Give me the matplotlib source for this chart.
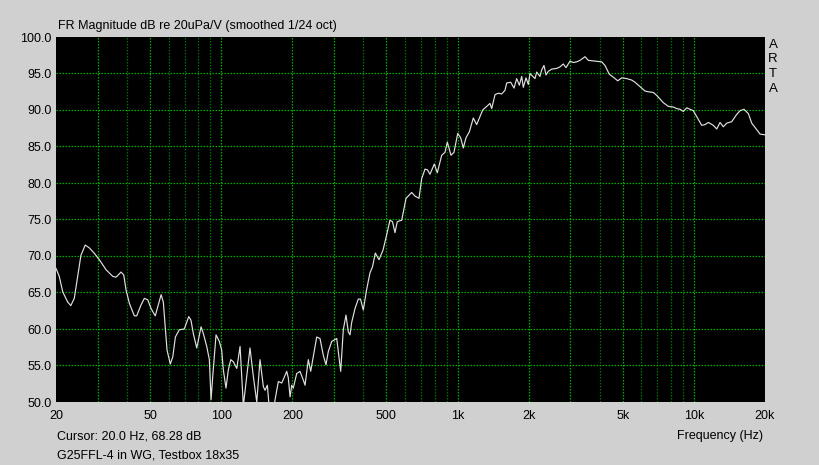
import matplotlib
matplotlib.use("Agg")
import matplotlib.pyplot as plt
import numpy as np

# ---- data (Hz, dB) ----
freq_hz = [
    20.0, 20.65, 21.35, 22.4, 23.1, 23.9, 24.7, 25.5, 26.6, 27.7, 29.0, 30.5, 32.6, 34.8, 35.9,
    37.7, 38.7, 39.6, 40.9, 42.9, 43.9, 45.8, 47.3, 48.9, 50.5, 52.6, 54.4, 55.7, 56.9, 58.0,
    59.0, 60.9, 62.4, 64.0, 66.5, 69.8, 72.9, 74.5, 76.2, 78.8, 82.2, 84.0, 86.9, 89.1, 90.6,
    92.1, 95.1, 98.2, 100.5, 102.1, 104.8, 107.2, 109.8, 112.6, 116.4, 120.2, 124.1, 132.4,
    136.8, 141.4, 146.0, 150.8, 153.3, 156.8, 159.4, 164.1, 169.0, 174.5, 180.4, 189.4, 192.3,
    195.6, 198.8, 201.9, 208.7, 215.5, 222.6, 226.3, 233.7, 239.2, 253.6, 261.9, 270.4, 277.6,
    283.9, 293.5, 308.2, 313.0, 320.4, 328.6, 337.4, 345.0, 350.8, 356.6, 368.3, 380.3, 388.6,
    399.3, 411.9, 426.2, 436.7, 448.8, 465.3, 483.8, 501.5, 517.8, 530.6, 543.7, 556.0, 580.5,
    605.5, 639.9, 660.8, 687.1, 705.3, 728.4, 746.3, 764.7, 797.5, 821.1, 857.1, 885.1, 905.2,
    938.4, 966.2, 1002, 1031, 1058, 1086, 1122, 1166, 1205, 1278, 1329, 1372, 1395, 1441, 1488,
    1538, 1588, 1615, 1679, 1734, 1780, 1826, 1869, 1898, 1949, 1993, 2026, 2127, 2163, 2233,
    2271, 2322, 2368, 2422, 2503, 2628, 2714, 2803, 2878, 2992, 3090, 3194, 3298, 3463, 3576,
    3817, 4075, 4208, 4388, 4563, 4763, 4952, 5200, 5459, 5637, 5822, 6018, 6214, 6418, 6738,
    6965, 7193, 7428, 7799, 8185, 8461, 8738, 9024, 9328, 9633, 9947, 10283, 10796, 11149,
    11514, 12089, 12496, 12905, 13327, 13776, 14463, 15185, 15682, 16305, 17003, 17575, 18453,
    19056, 20000,
]
level_db = [
    68.3, 67.2, 65.1, 63.7, 63.2, 64.2, 67.2, 70.1, 71.5, 71.1, 70.4, 69.5, 68.1, 67.2, 67.1,
    67.8, 67.4, 65.3, 63.5, 61.8, 61.8, 63.3, 64.2, 64.0, 62.8, 61.8, 63.5, 64.7, 63.7, 60.3,
    57.1, 55.2, 56.2, 58.9, 59.9, 60.0, 61.7, 61.2, 59.4, 57.4, 60.3, 59.4, 57.6, 55.8, 50.3,
    53.5, 59.2, 58.3, 57.1, 54.4, 51.9, 54.4, 55.8, 55.5, 54.6, 57.6, 49.5, 57.4,
    53.5, 50.0, 55.8, 52.1, 51.6, 52.3, 49.5, 47.5, 50.3, 52.8, 52.6, 54.2, 53.3,
    50.7, 52.3, 51.9, 53.9, 54.2, 53.0, 52.3, 55.8, 54.2, 58.9, 58.7, 56.4, 55.1,
    56.9, 58.3, 58.7, 56.9, 54.2, 59.9, 61.9, 59.6, 59.2, 60.9, 62.8, 64.1, 64.1,
    62.6, 65.3, 67.7, 68.5, 70.4, 69.5, 70.8, 72.9, 74.9, 74.7, 73.2, 74.7, 74.9,
    77.9, 78.7, 78.2, 77.9, 80.6, 81.9, 81.8, 81.2, 82.6, 81.4, 83.8, 84.2, 85.6,
    83.8, 84.2, 86.8, 86.2, 84.8, 86.2, 87.0, 88.9, 88.0, 90.0, 90.5, 90.9, 90.2, 92.1, 92.3,
    92.2, 92.7, 93.7, 93.8, 93.0, 94.3, 93.4, 94.6, 93.1, 94.4, 93.5, 95.0, 94.3, 95.2, 94.6,
    95.5, 96.1, 94.8, 95.3, 95.6, 95.7, 95.9, 96.3, 95.8, 96.7, 96.5, 96.6, 96.8, 97.3, 96.8,
    96.7, 96.6, 96.1, 94.9, 94.5, 94.0, 94.4, 94.3, 94.1, 93.8, 93.4, 93.0, 92.6, 92.5, 92.4,
    92.0, 91.5, 91.0, 90.5, 90.4, 90.2, 90.1, 89.8, 90.3, 90.1, 89.9, 89.1, 87.9, 88.0,
    88.3, 87.9, 87.4, 88.3, 87.7, 88.2, 88.4, 89.4, 89.9, 90.1, 89.5, 88.2, 87.3,
    86.7, 86.6,
]

x_ticks = [20, 50, 100, 200, 500, 1000, 2000, 5000, 10000, 20000]
x_tick_labels = ["20", "50", "100", "200", "500", "1k", "2k", "5k", "10k", "20k"]
y_ticks = [50, 55, 60, 65, 70, 75, 80, 85, 90, 95, 100]
bright_vlines = [30, 50, 100, 200, 300, 500, 1000, 2000, 3000, 5000, 10000]
dim_vlines = [40, 60, 70, 80, 90, 400, 600, 700, 800, 900, 4000, 6000, 7000, 8000, 9000]

title_text = "FR Magnitude dB re 20uPa/V (smoothed 1/24 oct)"
cursor_text = "Cursor: 20.0 Hz, 68.28 dB"
note_text = "G25FFL-4 in WG, Testbox 18x35"
xlabel_text = "Frequency (Hz)"

# ---- figure ----
plt.rcParams['font.family'] = ['Liberation Sans', 'DejaVu Sans']
W, H = 820, 465
fig = plt.figure(figsize=(W / 100, H / 100), dpi=100)
fig.patch.set_facecolor("#d0d0d0")

ax = fig.add_axes([56 / W, (H - 402) / H, 709 / W, 365 / H])
ax.set_facecolor("black")
ax.set_xscale("log")
ax.set_xlim(20, 20000)
ax.set_ylim(50, 100)

gl = 0.9
dots = (0, (1.2, 1.2))
for v in dim_vlines:
    ax.axvline(v, color="#007000", lw=gl, ls=dots, zorder=1)
for v in bright_vlines:
    ax.axvline(v, color="#00b000", lw=gl, ls=dots, zorder=1)
for yv in y_ticks[1:-1]:
    ax.axhline(yv, color="#00b000", lw=gl, ls=dots, zorder=1)

ax.plot(freq_hz, level_db, color="#e0e0e0", lw=0.85, zorder=3, clip_on=True)

ax.set_xticks(x_ticks)
ax.set_xticklabels(x_tick_labels)
ax.xaxis.set_minor_locator(matplotlib.ticker.NullLocator())
ax.set_yticks(y_ticks)
ax.set_yticklabels([f"{v:.1f}" for v in y_ticks])
ax.tick_params(axis="both", length=0, labelsize=9, colors="black")
ax.tick_params(axis="x", pad=6)
ax.tick_params(axis="y", pad=3)
for s in ax.spines.values():
    s.set_visible(False)

fig.text(58 / W, 1 - 26 / H, title_text, fontsize=9, ha="left", va="center")
fig.text(57 / W, 1 - 436 / H, cursor_text, fontsize=9, ha="left", va="center")
fig.text(57 / W, 1 - 455 / H, note_text, fontsize=9, ha="left", va="center")
fig.text(763 / W, 1 - 436 / H, xlabel_text, fontsize=9, ha="right", va="center")
for i, ch in enumerate("ARTA"):
    fig.text(773 / W, 1 - (45 + i * 14.5) / H, ch, fontsize=9.5, ha="center", va="center")

fig.savefig("out.png", dpi=100, facecolor=fig.get_facecolor())
